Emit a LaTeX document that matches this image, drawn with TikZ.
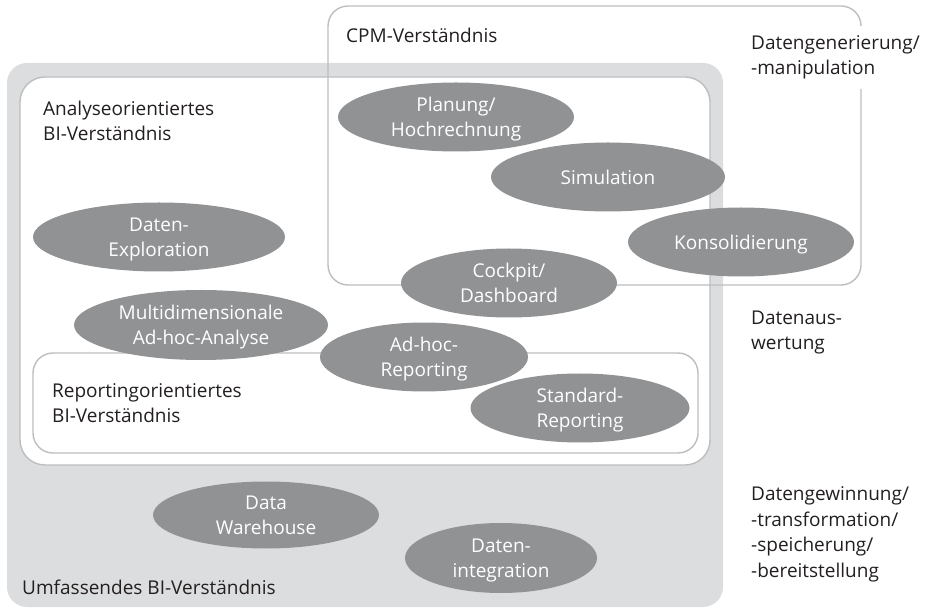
\documentclass[tikz,border=0pt]{standalone}
\usepackage{fontspec}
\setmainfont{Open Sans}
\usetikzlibrary{shapes.geometric}
\definecolor{bandgray}{HTML}{DCDDDE}
\definecolor{ovalgray}{HTML}{919294}
\definecolor{linegray}{HTML}{BDBEC0}
\definecolor{inkc}{HTML}{231F20}
\begin{document}
\begin{tikzpicture}[x=1pt,y=-1pt,
  lbl/.style={align=left, anchor=base west, inner sep=0pt, text=inkc, font=\fontsize{19}{25.5}\selectfont},
  oval/.style={ellipse, fill=ovalgray, text=white, inner sep=0pt, align=center, text depth=-3pt, font=\fontsize{19}{25}\selectfont},
  frame/.style={draw=linegray, line width=1.4pt}]
\useasboundingbox (0,0) rectangle (927,609);
% outer band
\fill[bandgray, rounded corners=20pt] (7,63) rectangle (723,607);
% analyse box
\draw[frame, fill=white, rounded corners=25pt] (20,77) rectangle (710,465);
% CPM box with gap on the right side
\draw[frame, rounded corners=20pt] (861,89) -- (861,285) -- (328,285) -- (328,6) -- (861,6) -- (861,26);
% reporting box
\draw[frame, rounded corners=20pt] (33,353) rectangle (698,453);

% labels (anchor = baseline of last line)
\node[lbl] (cpm) at (346,43) {CPM-Verständnis};
\node[lbl] (ana) at (43,141) {Analyseorientiertes\\BI-Verständnis};
\node[lbl] (rep) at (52,423) {Reportingorientiertes\\BI-Verständnis};
\node[lbl] (umf) at (22,594) {Umfassendes BI-Verständnis};
\node[lbl] (gen) at (751,75) {Datengenerierung/\\-manipulation};
\node[lbl] (ausw) at (751,350) {Datenaus-\\wertung};
\node[lbl] (gew) at (751,577) {Datengewinnung/\\-transformation/\\-speicherung/\\-bereitstellung};

% ovals
\node[oval, minimum width=236pt, minimum height=69pt] (plan) at (456,117) {Planung/\\Hochrechnung};
\node[oval, minimum width=234pt, minimum height=69pt] (sim) at (608,177) {Simulation};
\node[oval, minimum width=226pt, minimum height=69pt] (kons) at (741,242) {Konsolidierung};
\node[oval, minimum width=252pt, minimum height=69pt] (expl) at (159,237) {Daten-\\Exploration};
\node[oval, minimum width=216pt, minimum height=69pt] (cock) at (509,283) {Cockpit/\\Dashboard};
\node[oval, minimum width=254pt, minimum height=70pt] (multi) at (201,325) {Multidimensionale\\Ad-hoc-Analyse};
\node[oval, minimum width=208pt, minimum height=69pt] (adhoc) at (424,357) {Ad-hoc-\\Reporting};
\node[oval, minimum width=219pt, minimum height=69pt] (std) at (580,408) {Standard-\\Reporting};
\node[oval, minimum width=226pt, minimum height=67pt] (dwh) at (266,515) {Data\\Warehouse};
\node[oval, minimum width=192pt, minimum height=70pt] (dint) at (501,558) {Daten-\\integration};
\end{tikzpicture}
\end{document}
